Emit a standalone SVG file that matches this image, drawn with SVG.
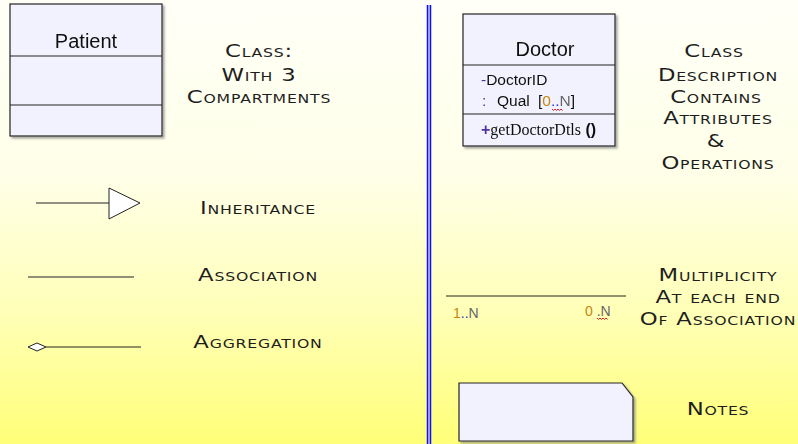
<svg xmlns="http://www.w3.org/2000/svg" width="798" height="444" viewBox="0 0 798 444">
  <defs>
    <linearGradient id="bg" x1="0" y1="0" x2="0" y2="1">
      <stop offset="0" stop-color="#FFFFF8"/>
      <stop offset="0.4" stop-color="#FFFFE8"/>
      <stop offset="0.7" stop-color="#FFFFB8"/>
      <stop offset="1" stop-color="#FFFF78"/>
    </linearGradient>
    <filter id="shadow" x="-10%" y="-10%" width="130%" height="130%">
      <feOffset dx="2" dy="2" in="SourceAlpha" result="o"/>
      <feGaussianBlur in="o" stdDeviation="1" result="b"/>
      <feFlood flood-color="#808080" flood-opacity="0.7"/>
      <feComposite in2="b" operator="in" result="s"/>
      <feMerge><feMergeNode in="s"/><feMergeNode in="SourceGraphic"/></feMerge>
    </filter>
  </defs>
  <style>
    .box { fill: #F2F2FE; stroke: #222; stroke-width: 1.2; }
    .sep { stroke: #222; stroke-width: 1; }
    .edge { stroke: #222; stroke-width: 1; fill: none; }
    .title { font-family: "Liberation Sans", Arial, sans-serif; font-size: 20px; fill: #111; text-anchor: middle; }
    .cap { font-family: "DejaVu Sans", "Liberation Sans", sans-serif; font-size: 17.5px; font-variant: small-caps; fill: #1E1E1E; text-anchor: middle; letter-spacing: 0.6px; }
    .attr { font-family: "Liberation Sans", Arial, sans-serif; font-size: 15.5px; fill: #111; }
    .op { font-family: "Liberation Serif", "Times New Roman", serif; font-size: 16px; fill: #111; }
    .vis { fill: #5030A0; }
    .num { fill: #C8860A; }
    .dots { fill: #3030E0; }
    .nn { fill: #666; }
    .mult { font-family: "Liberation Sans", Arial, sans-serif; font-size: 14px; }
    .squig { stroke: #E02020; stroke-width: 1; fill: none; }
  </style>

  <rect width="798" height="444" fill="url(#bg)"/>

  <!-- vertical divider -->
  <g id="divider">
    <rect x="427" y="5" width="4" height="439" fill="#C8C8FF"/>
    <line x1="427.5" y1="5" x2="427.5" y2="444" stroke="#1010F0" stroke-width="1.5"/>
    <line x1="430.5" y1="5" x2="430.5" y2="444" stroke="#1010F0" stroke-width="1.5"/>
  </g>

  <!-- Patient class -->
  <g id="patient" filter="url(#shadow)">
    <rect class="box" x="10" y="4" width="152" height="132"/>
    <line class="sep" x1="10" y1="56" x2="162" y2="56"/>
    <line class="sep" x1="10" y1="105" x2="162" y2="105"/>
    <text class="title" x="86" y="48">Patient</text>
  </g>
  <!-- wide small-caps captions: centred at x, stretched horizontally -->
  <g id="patient-label">
    <text class="cap" transform="translate(259 57) scale(1.3 1)">Class:</text>
    <text class="cap" transform="translate(259 81) scale(1.3 1)">With 3</text>
    <text class="cap" transform="translate(259 103) scale(1.3 1)">Compartments</text>
  </g>

  <!-- Doctor class -->
  <g id="doctor" filter="url(#shadow)">
    <rect class="box" x="463" y="14" width="152" height="132"/>
    <line class="sep" x1="463" y1="65" x2="615" y2="65"/>
    <line class="sep" x1="463" y1="114" x2="615" y2="114"/>
    <text class="title" x="545" y="56">Doctor</text>
    <text class="attr" x="481" y="85"><tspan class="vis">-</tspan>DoctorID</text>
    <text class="attr" y="106"><tspan class="vis" x="482">:</tspan><tspan x="497">Qual</tspan><tspan x="538">[</tspan><tspan class="num">0</tspan><tspan class="dots">..</tspan><tspan class="nn">N</tspan>]</text>
    <path class="squig" d="M552 109 l1.5 1.5 l1.5 -1.5 l1.5 1.5 l1.5 -1.5 l1.5 1.5 l1.5 -1.5 l1.5 1.5"/>
    <text class="op" x="481" y="135"><tspan class="vis" font-family="Liberation Sans, sans-serif" font-weight="bold">+</tspan>getDoctorDtls<tspan font-family="Liberation Sans, sans-serif" font-weight="bold"> ()</tspan></text>
  </g>
  <g id="doctor-label">
    <text class="cap" transform="translate(714 57) scale(1.3 1)">Class</text>
    <text class="cap" transform="translate(718 81) scale(1.3 1)">Description</text>
    <text class="cap" transform="translate(716 103) scale(1.3 1)">Contains</text>
    <text class="cap" transform="translate(718 124) scale(1.3 1)">Attributes</text>
    <text class="cap" transform="translate(716 147) scale(1.3 1)">&amp;</text>
    <text class="cap" transform="translate(718 169) scale(1.3 1)">Operations</text>
  </g>

  <!-- connector legend -->
  <g id="connectors">
    <g id="inheritance">
      <line class="edge" x1="36" y1="203" x2="109" y2="203"/>
      <polygon points="109,188 140,203 109,219" fill="#FFFFFF" stroke="#222" stroke-width="1"/>
    </g>
    <g id="association">
      <line class="edge" x1="28" y1="277" x2="134" y2="277"/>
    </g>
    <g id="aggregation">
      <polygon points="28,347 37,343 46,347 37,351" fill="#FFFFFF" stroke="#222" stroke-width="1"/>
      <line class="edge" x1="46" y1="347" x2="141" y2="347"/>
    </g>
    <g id="multiplicity">
      <line class="edge" x1="446" y1="296" x2="626" y2="296"/>
      <text class="mult" x="453" y="318"><tspan class="num">1</tspan><tspan class="dots">..</tspan><tspan class="nn">N</tspan></text>
      <text class="mult" x="585" y="316"><tspan class="num">0</tspan><tspan class="nn"> .N</tspan></text>
      <path class="squig" d="M597 318 l1.5 1.5 l1.5 -1.5 l1.5 1.5 l1.5 -1.5 l1.5 1.5 l1.5 -1.5 l1.5 1.5"/>
    </g>
  </g>
  <g id="legend-labels">
    <text class="cap" transform="translate(258 214) scale(1.3 1)">Inheritance</text>
    <text class="cap" transform="translate(258 281) scale(1.3 1)">Association</text>
    <text class="cap" transform="translate(258 348) scale(1.3 1)">Aggregation</text>
    <text class="cap" transform="translate(718 281) scale(1.3 1)">Multiplicity</text>
    <text class="cap" transform="translate(718 303) scale(1.3 1)">At each end</text>
    <text class="cap" transform="translate(718 325) scale(1.3 1)">Of Association</text>
  </g>

  <!-- note -->
  <g id="note" filter="url(#shadow)">
    <path class="box" d="M459 383 H622 L633 397 V441 H459 Z"/>
  </g>
  <g id="note-label">
    <text class="cap" transform="translate(718 415) scale(1.3 1)">Notes</text>
  </g>
</svg>
